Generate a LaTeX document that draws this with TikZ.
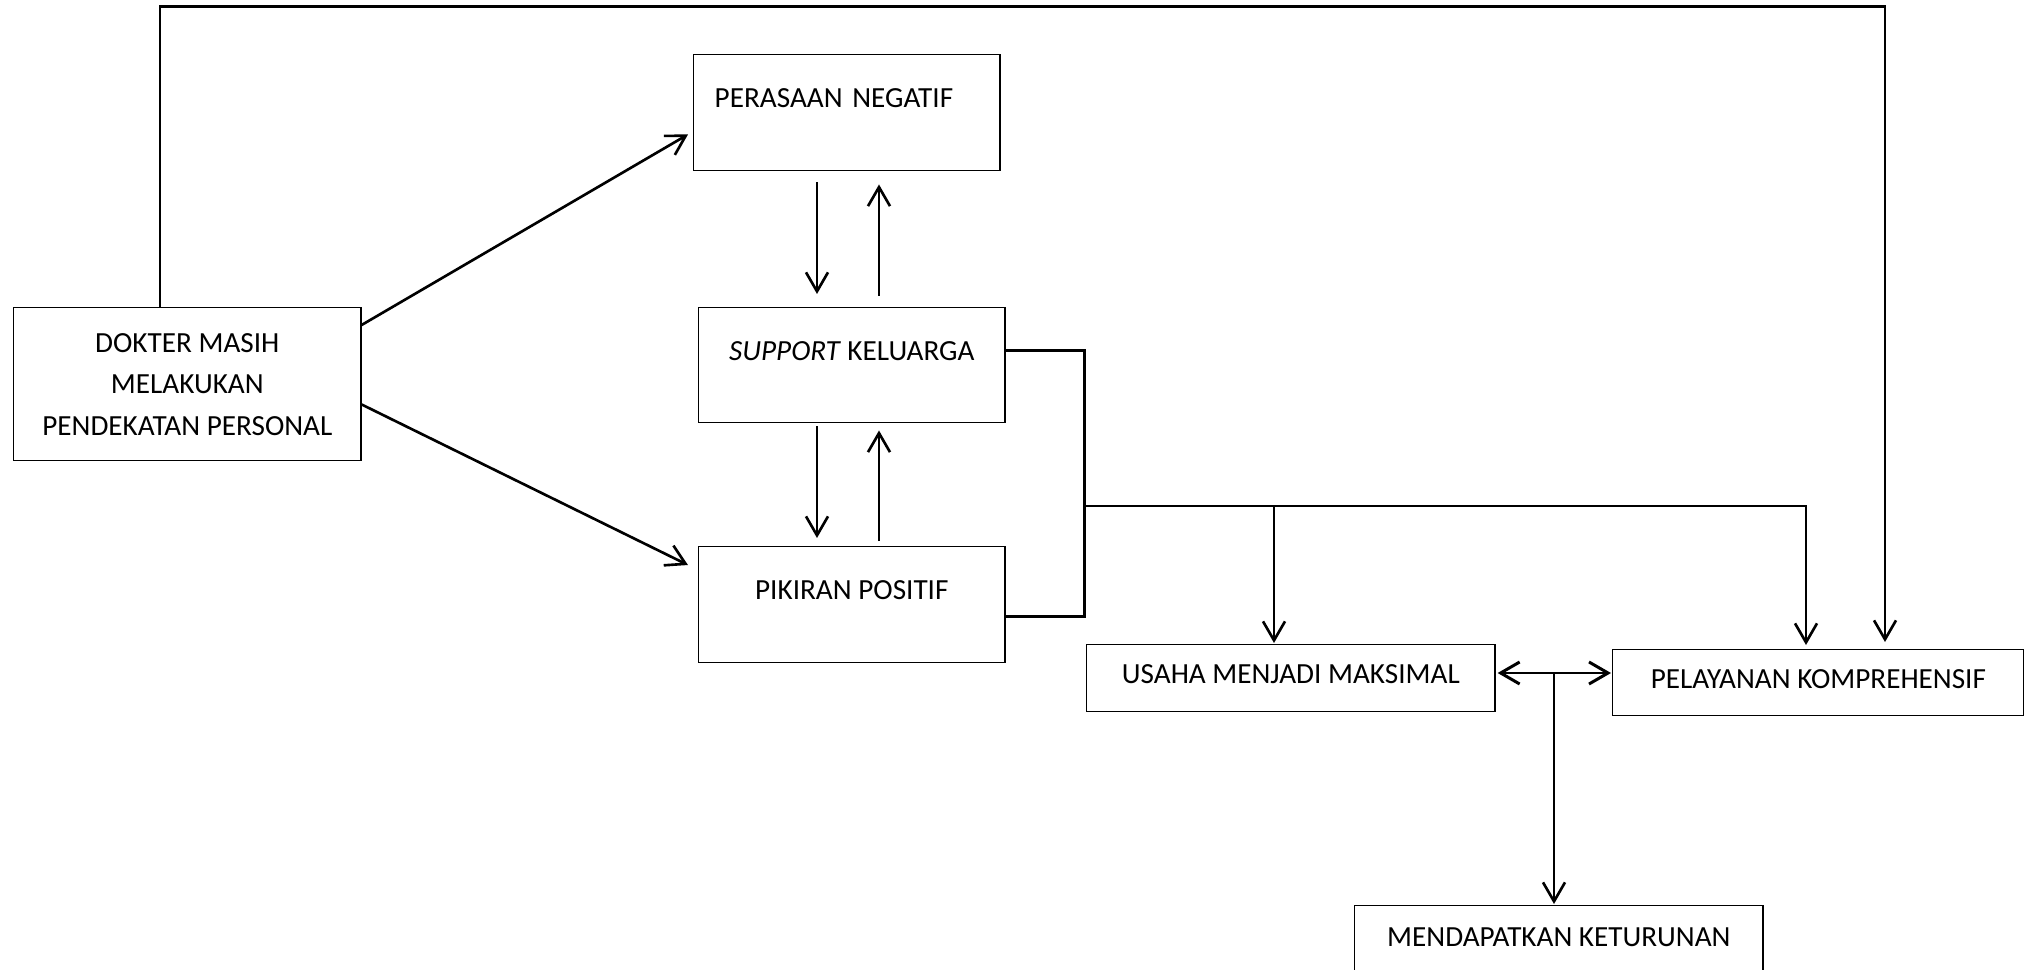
\documentclass[tikz,border=0pt]{standalone}
\usepackage{fontspec}
\setmainfont{Carlito}
\usetikzlibrary{arrows.meta, calc}
\tikzset{
    kotak/.style = {draw, line width=0.4pt, inner sep=0pt, anchor=north west, align=center, font=\fontsize{8.3}{11.8}\selectfont},
    garis/.style = {line width=0.85pt},
    panah/.style = {line width=0.75pt, -{Straight Barb[length=1.9mm, width=2.2mm]}},
    panahdua/.style = {garis, {Straight Barb[length=1.9mm, width=2.2mm]}-{Straight Barb[length=1.9mm, width=2.2mm]}}
}

\begin{document}
\begin{tikzpicture}[x=0.01cm, y=-0.01cm]
    % ukuran gambar
    \useasboundingbox (0,0) rectangle (2024,970);

    % titik bantu
    \coordinate (atas1) at (160,6.5);
    \coordinate (atas2) at (1885,6.5);
    \coordinate (turun) at (817,0);
    \coordinate (naik) at (879,0);
    \coordinate (sambung) at (1084,506);
    \coordinate (cabang) at (1806,506);
    \coordinate (cabang2) at (1274,506);
    \coordinate (tengah) at (1554,673);

    % kotak-kotak
    \node[kotak, minimum width=34.7mm, minimum height=15.3mm] (dokter) at (13,307) {DOKTER MASIH\\MELAKUKAN\\PENDEKATAN PERSONAL};
    \node[kotak, minimum width=30.6mm, text width=26.4mm, inner xsep=2.1mm, align=left, text height=5.25mm, text depth=6.35mm] (negatif) at (693,54) {PERASAAN NEGATIF};
    \node[kotak, minimum width=30.6mm, text height=5.25mm, text depth=6.25mm] (support) at (698,307) {\textit{SUPPORT} KELUARGA};
    \node[kotak, minimum width=30.6mm, text height=5.25mm, text depth=6.35mm] (positif) at (698,546) {PIKIRAN POSITIF};
    \node[kotak, minimum width=40.8mm, text height=3.85mm, text depth=2.85mm] (usaha) at (1086,644) {USAHA MENJADI MAKSIMAL};
    \node[kotak, minimum width=41.1mm, text height=3.85mm, text depth=2.75mm] (pelayanan) at (1612,649) {PELAYANAN KOMPREHENSIF};
    \node[kotak, minimum width=40.8mm, text height=4.05mm, text depth=2.65mm] (keturunan) at (1354,905) {MENDAPATKAN KETURUNAN};

    % garis dari dokter
    \draw[panah] (atas1 |- dokter.north) -- (atas1) -- (atas2) -- ([yshift=0.7mm]atas2 |- pelayanan.north);
    \draw[panah] ([yshift=-1.8mm]dokter.north east) -- ([xshift=-0.5mm, yshift=3.7mm]negatif.south west);
    \draw[panah] ([yshift=5.7mm]dokter.south east) -- ([xshift=-1mm, yshift=-1.9mm]positif.north west);

    % panah bolak-balik
    \draw[panah] ([yshift=-1.1mm]turun |- negatif.south) -- ([yshift=1.3mm]turun |- support.north);
    \draw[panah] ([yshift=1.1mm]naik |- support.north) -- ([yshift=-1.3mm]naik |- negatif.south);
    \draw[panah] ([yshift=-0.3mm]turun |- support.south) -- ([yshift=0.8mm]turun |- positif.north);
    \draw[panah] ([yshift=0.5mm]naik |- positif.north) -- ([yshift=-0.7mm]naik |- support.south);

    % garis ke kanan
    \draw[garis] ([yshift=-4.3mm]support.north east) -| (sambung);
    \draw[garis] ([yshift=-7mm]positif.north east) -| (sambung);
    \draw[panah] (sambung) -- (cabang) -- ([yshift=0.4mm]cabang |- pelayanan.north);
    \draw[panah] (cabang2) -- ([yshift=0.1mm]cabang2 |- usaha.north);

    % usaha - pelayanan - keturunan
    \draw[panahdua] ([xshift=0.2mm]usaha.east |- tengah) -- ([xshift=-0.1mm]pelayanan.west |- tengah);
    \draw[panah] (tengah) -- ([yshift=0.1mm]tengah |- keturunan.north);
\end{tikzpicture}
\end{document}
